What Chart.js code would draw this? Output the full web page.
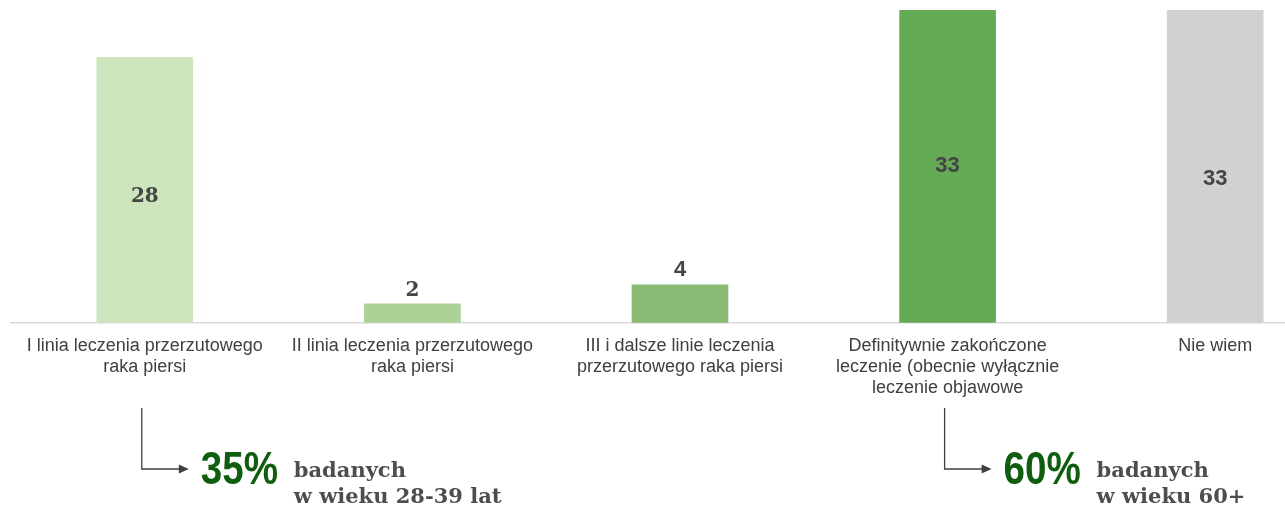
<!DOCTYPE html>
<html>
<head>
<meta charset="utf-8">
<script src="https://cdn.jsdelivr.net/npm/chart.js@4"></script>
<style>
  html, body { margin: 0; padding: 0; background: #fff; overflow: hidden; }
  #wrap { width: 1350px; height: 511px; }
</style>
</head>
<body>
<div id="wrap"><canvas id="linesChart"></canvas></div>
<script>
// data
const categories = [
    ['I linia leczenia przerzutowego', 'raka piersi'],
    ['II linia leczenia przerzutowego', 'raka piersi'],
    ['III i dalsze linie leczenia', 'przerzutowego raka piersi'],
    ['Definitywnie zakończone', 'leczenie (obecnie wyłącznie', 'leczenie objawowe'],
    ['Nie wiem']
];
const values = [28, 2, 4, 33, 33];
const callouts = [
    { index: 0, pct: '35%', line1: 'badanych', line2: 'w wieku 28-39 lat' },
    { index: 3, pct: '60%', line1: 'badanych', line2: 'w wieku 60+' }
];

// styles
const barColors = ['#cce5bd', '#acd197', '#88ba73', '#65ab56', '#d0d1d3'];
const labelFonts = ['DejaVu Serif', 'DejaVu Serif', 'Liberation Sans', 'Liberation Sans', 'Liberation Sans'];
const labelShift = [7, -13, -15, 0, 13];

const valueLabels = {
    id: 'valueLabels',
    afterDatasetsDraw(chart) {
        const ctx = chart.ctx;
        const meta = chart.getDatasetMeta(0);
        ctx.save();
        ctx.textAlign = 'center';
        ctx.textBaseline = 'middle';
        ctx.fillStyle = '#444444';
        meta.data.forEach((bar, i) => {
            const v = values[i];
            const serif = labelFonts[i] === 'DejaVu Serif';
            ctx.font = 'bold ' + (serif ? 20 : 22) + 'px "' + labelFonts[i] + '"';
            let y;
            if (v >= 10) {
                y = (bar.y + bar.base) / 2 + labelShift[i];
            } else {
                y = bar.y + labelShift[i];
            }
            ctx.fillText(String(v), bar.x, y);
        });
        ctx.restore();
    }
};

const calloutPlugin = {
    id: 'callouts',
    afterDraw(chart) {
        const ctx = chart.ctx;
        const meta = chart.getDatasetMeta(0);
        ctx.save();
        callouts.forEach(c => {
            const x = meta.data[c.index].x - 3;
            const top = 408, y = 469;
            ctx.strokeStyle = '#404040';
            ctx.lineWidth = 1.3;
            ctx.beginPath();
            ctx.moveTo(x, top);
            ctx.lineTo(x, y);
            ctx.lineTo(x + 40, y);
            ctx.stroke();
            ctx.fillStyle = '#404040';
            ctx.beginPath();
            ctx.moveTo(x + 47, y);
            ctx.lineTo(x + 37, y - 4.5);
            ctx.lineTo(x + 37, y + 4.5);
            ctx.closePath();
            ctx.fill();

            // narrow bold percentage
            ctx.save();
            ctx.translate(x + 59, 484);
            ctx.scale(0.84, 1);
            ctx.fillStyle = '#0f5e0f';
            ctx.font = 'bold 46px "Liberation Sans"';
            ctx.textAlign = 'left';
            ctx.textBaseline = 'alphabetic';
            ctx.fillText(c.pct, 0, 0);
            ctx.restore();

            ctx.fillStyle = '#4d4d4d';
            ctx.font = 'bold 21px "DejaVu Serif"';
            ctx.textAlign = 'left';
            ctx.textBaseline = 'alphabetic';
            ctx.fillText(c.line1, x + 152, 477);
            ctx.fillText(c.line2, x + 152, 503);
        });
        ctx.restore();
    }
};

const ctx = document.getElementById('linesChart').getContext('2d');
const linesChart = new Chart(ctx, {
    type: 'bar',
    data: {
        labels: categories,
        datasets: [{
            data: values,
            backgroundColor: barColors,
            borderWidth: 0,
            barThickness: 96
        }]
    },
    options: {
        responsive: true,
        maintainAspectRatio: false,
        animation: false,
        layout: {
            padding: { left: 11, right: 1, top: 10, bottom: 107 }
        },
        plugins: {
            legend: { display: false },
            tooltip: { enabled: false }
        },
        scales: {
            x: {
                grid: { display: false },
                border: { display: true, color: '#d9d9d9', width: 1.5 },
                ticks: {
                    color: '#404040',
                    padding: 5,
                    maxRotation: 0,
                    autoSkip: false,
                    font: { family: 'Liberation Sans', size: 18, lineHeight: 1.17 }
                }
            },
            y: {
                display: false,
                min: 0,
                max: 33
            }
        }
    },
    plugins: [valueLabels, calloutPlugin]
});
</script>
</body>
</html>
